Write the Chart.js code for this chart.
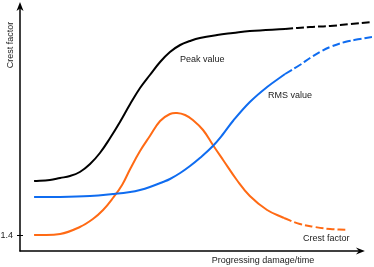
<!DOCTYPE html>
<html><head><meta charset="utf-8">
<script src="https://cdn.jsdelivr.net/npm/chart.js@4"></script>
<style>html,body{margin:0;padding:0;background:#fff}#wrap{width:374px;height:267px;position:relative}</style>
</head><body><div id="wrap"><canvas id="c" width="374" height="267"></canvas></div>
<script>
// Progress (time units 0..10) and values
const peakX      = [0.40,0.85,1.14,1.42,1.70,1.99,2.27,2.56,2.84,3.13,3.41,3.69,3.98,4.26,4.55,4.83,5.11,5.60,6.05,6.53,7.53];
const peakY      = [2.75,2.775,2.825,2.875,2.975,3.175,3.45,3.825,4.225,4.675,5.075,5.4,5.725,5.975,6.15,6.25,6.325,6.4,6.45,6.5,6.55];
const peakDashX  = [7.53,8.24,8.81,9.38,10.0];
const peakDashY  = [6.55,6.6,6.625,6.675,6.725];
const rmsX       = [0.40,1.14,1.99,2.64,3.13,3.41,3.69,4.06,4.26,4.55,4.83,5.11,5.48,5.77,6.05,6.53,7.02,7.53];
const rmsY       = [2.35,2.35,2.375,2.425,2.475,2.525,2.6,2.725,2.8,2.95,3.125,3.325,3.625,3.925,4.25,4.725,5.1,5.425];
const rmsDashX   = [7.53,7.95,8.24,8.52,8.81,9.23,9.66,10.0];
const rmsDashY   = [5.425,5.65,5.825,5.975,6.1,6.225,6.3,6.35];
const crestX     = [0.40,1.14,1.70,2.07,2.36,2.64,2.90,3.13,3.41,3.69,3.98,4.26,4.46,4.69,4.91,5.20,5.48,5.77,6.16,6.53,7.02,7.50];
const crestY     = [1.4,1.425,1.6,1.8,2.025,2.325,2.65,3.05,3.5,3.875,4.25,4.425,4.45,4.4,4.275,4.025,3.65,3.275,2.775,2.375,2.025,1.825];
const crestDashX = [7.50,7.95,8.38,8.81,9.32];
const crestDashY = [1.825,1.675,1.6,1.55,1.525];
const yTicks     = [1.4];
const yTickLabels= ["1.4"];
const xTitle = "Progressing damage/time";
const yTitle = "Crest factor";
const seriesLabels = ["Peak value","RMS value","Crest factor"];

const BLACK="#000000", BLUE="#0f6cf0", ORANGE="#ff6a14";
function pts(xs,ys){return xs.map((x,i)=>({x:x,y:ys[i]}));}
function ds(xs,ys,color,dash){return {data:pts(xs,ys),borderColor:color,borderWidth:2,borderDash:dash||[],pointRadius:0,fill:false,tension:0.4,borderCapStyle:'butt'};}

const deco={id:'deco',afterDraw(chart){
  const c=chart.ctx, a=chart.chartArea, xs=chart.scales.x, ys=chart.scales.y;
  c.save();
  c.strokeStyle='#000'; c.fillStyle='#000'; c.lineWidth=1.5;
  const ox=a.left, oy=a.bottom;
  // y axis
  c.beginPath(); c.moveTo(ox,oy+0.5); c.lineTo(ox,a.top); c.stroke();
  c.beginPath(); c.moveTo(ox,a.top-3); c.lineTo(ox+3.5,a.top+6); c.lineTo(ox,a.top+3.5); c.lineTo(ox-3.5,a.top+6); c.closePath(); c.fill();
  // x axis
  const xe=xs.getPixelForValue(9.77);
  c.beginPath(); c.moveTo(ox-0.5,oy); c.lineTo(xe-4,oy); c.stroke();
  c.beginPath(); c.moveTo(xe+1,oy); c.lineTo(xe-8,oy-3.5); c.lineTo(xe-5,oy); c.lineTo(xe-8,oy+3.5); c.closePath(); c.fill();
  // y ticks
  c.lineWidth=1;
  c.font='9px "Liberation Sans", Arial, sans-serif'; c.fillStyle='#222'; c.textBaseline='middle'; c.textAlign='right';
  yTicks.forEach((t,i)=>{const py=Math.round(ys.getPixelForValue(t))+0.5; c.beginPath(); c.moveTo(ox-3,py); c.lineTo(ox+3,py); c.strokeStyle='#000'; c.stroke(); c.fillText(yTickLabels[i],ox-7,py);});
  // titles
  c.textAlign='center';
  c.fillText(xTitle,263,261);
  c.save(); c.translate(11,45); c.rotate(-Math.PI/2); c.fillText(yTitle,0,0); c.restore();
  // series labels
  c.textAlign='left';
  c.fillText(seriesLabels[0],180,59.5);
  c.fillText(seriesLabels[1],268,95.5);
  c.fillText(seriesLabels[2],303,238.5);
  c.restore();
}};

new Chart(document.getElementById('c'),{
  type:'line',
  data:{datasets:[
    ds(peakX,peakY,BLACK), ds(peakDashX,peakDashY,BLACK,[8,3]),
    ds(rmsX,rmsY,BLUE), ds(rmsDashX,rmsDashY,BLUE,[8,3]),
    ds(crestX,crestY,ORANGE), ds(crestDashX,crestDashY,ORANGE,[8,3])
  ]},
  options:{
    responsive:false, animation:false, events:[],
    layout:{padding:{left:20,right:2,top:5,bottom:16}},
    plugins:{legend:{display:false},tooltip:{enabled:false}},
    scales:{
      x:{type:'linear',min:0,max:10,display:false},
      y:{type:'linear',min:1.0,max:7.15,display:false}
    }
  },
  plugins:[deco]
});
</script></body></html>
